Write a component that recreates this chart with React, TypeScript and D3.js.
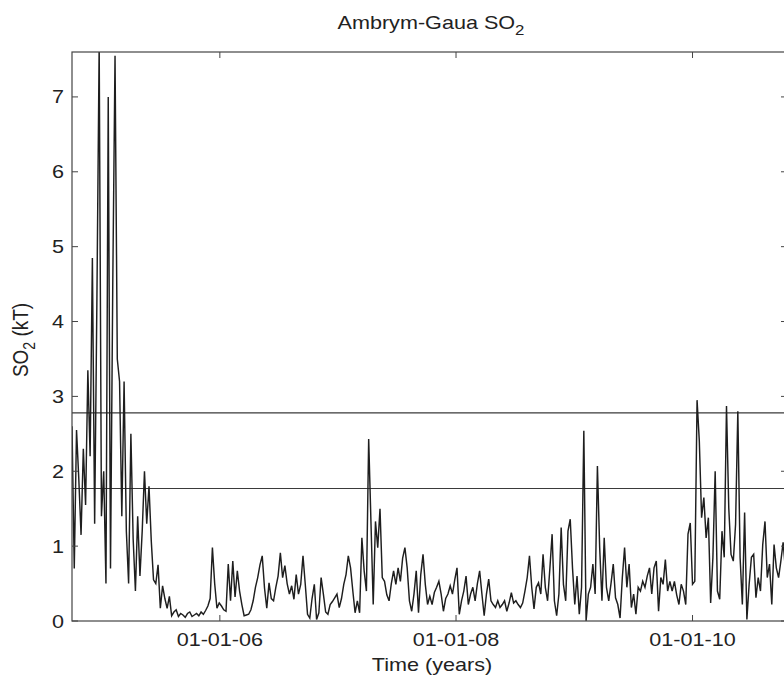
import { useEffect, useRef } from 'react';
import * as d3 from 'd3';

// weekly SO2 mass (kT), starting 2004-10-01
const startDate = new Date(2004, 9, 1);
const so2Values = [
  2.6, 0.7, 2.55, 1.9, 1.15, 2.3, 1.55, 3.35, 2.2, 4.85,
  1.3, 4.3, 7.7, 1.4, 2.0, 0.5, 7.0, 0.7, 4.5, 7.55,
  3.5, 3.2, 1.4, 3.2, 1.2, 0.5, 2.5, 1.1, 0.4, 1.4,
  0.6, 1.2, 2.0, 1.3, 1.8, 1.07, 0.55, 0.5, 0.75, 0.17,
  0.47, 0.3, 0.17, 0.33, 0.07, 0.12, 0.15, 0.06, 0.1, 0.08,
  0.05, 0.1, 0.12, 0.06, 0.08, 0.1, 0.07, 0.12, 0.09, 0.14,
  0.2, 0.3, 0.98, 0.5, 0.17, 0.24, 0.2, 0.15, 0.13, 0.76,
  0.27, 0.8, 0.32, 0.67, 0.4, 0.22, 0.07, 0.08, 0.09, 0.15,
  0.27, 0.45, 0.58, 0.75, 0.87, 0.44, 0.17, 0.51, 0.3, 0.27,
  0.45, 0.6, 0.91, 0.58, 0.74, 0.5, 0.36, 0.47, 0.29, 0.62,
  0.36, 0.49, 0.87, 0.49, 0.09, 0.04, 0.3, 0.49, 0.02, 0.11,
  0.58, 0.36, 0.12, 0.09, 0.22, 0.26, 0.31, 0.36, 0.18, 0.3,
  0.49, 0.62, 0.87, 0.71, 0.4, 0.11, 0.27, 0.11, 1.11, 0.67,
  0.4, 2.43, 1.33, 0.22, 1.33, 0.98, 1.5, 0.58, 0.53, 0.35,
  0.27, 0.5, 0.67, 0.49, 0.71, 0.53, 0.84, 0.98, 0.71, 0.27,
  0.13, 0.36, 0.67, 0.11, 0.62, 0.89, 0.49, 0.22, 0.33, 0.22,
  0.38, 0.45, 0.53, 0.36, 0.13, 0.3, 0.36, 0.47, 0.36, 0.55,
  0.71, 0.09, 0.27, 0.4, 0.6, 0.22, 0.36, 0.45, 0.27, 0.5,
  0.67, 0.36, 0.07, 0.36, 0.56, 0.27, 0.22, 0.18, 0.27, 0.18,
  0.22, 0.27, 0.13, 0.24, 0.38, 0.24, 0.27, 0.22, 0.18, 0.24,
  0.4, 0.58, 0.87, 0.45, 0.16, 0.45, 0.51, 0.36, 0.89, 0.45,
  0.27, 0.7, 1.16, 0.27, 0.07, 0.36, 1.25, 0.49, 0.27, 1.2,
  1.36, 0.71, 0.22, 0.6, 0.09, 0.45, 2.54, 0.0, 0.36, 0.45,
  0.76, 0.36, 2.07, 0.98, 0.27, 1.11, 0.45, 0.27, 0.5, 0.76,
  0.31, 0.22, 0.04, 0.58, 0.98, 0.45, 0.76, 0.18, 0.36, 0.09,
  0.45, 0.4, 0.53, 0.45, 0.6, 0.71, 0.36, 0.71, 0.8, 0.13,
  0.58, 0.49, 0.82, 0.4, 0.53, 0.4, 0.53, 0.35, 0.22, 0.49,
  0.4, 0.22, 1.16, 1.31, 0.49, 0.53, 2.95, 2.4, 1.38, 1.65,
  1.11, 1.38, 0.24, 0.85, 2.0, 0.4, 0.29, 1.2, 0.85, 2.87,
  1.51, 0.89, 0.8, 1.29, 2.8, 0.85, 0.22, 1.45, 0.02, 0.49,
  0.85, 0.89, 0.31, 0.58, 0.4, 1.02, 1.33, 0.58, 0.76, 0.22,
  1.02, 0.71, 0.58, 0.8, 1.05, 0.7,
];
const thresholdLevels = [2.78, 1.77];
const yTicks = [0, 1, 2, 3, 4, 5, 6, 7];
const xTickDates = [new Date(2006, 0, 1), new Date(2008, 0, 1), new Date(2010, 0, 1)];
const xTickLabels = ['01-01-06', '01-01-08', '01-01-10'];

const W = 784;
const H = 682;
const left = 72;
const right = 787;
const top = 52;
const bottom = 621;
const FONT = 'Liberation Sans, Arial, Helvetica, sans-serif';
const STRETCH = 1.2;

export default function App() {
  const svgRef = useRef<SVGSVGElement>(null);

  useEffect(() => {
    const svg = d3.select(svgRef.current);
    svg.selectAll('*').remove();

    const x = d3.scaleTime()
      .domain([startDate, new Date(2010, 9, 20)])
      .range([left, right]);
    const y = d3.scaleLinear().domain([0, 7.6]).range([bottom, top]);

    const data = so2Values.map((v, i) => ({ date: d3.timeDay.offset(startDate, i * 7), value: v }));

    svg.append('rect').attr('width', W).attr('height', H).attr('fill', '#fff');

    svg.append('clipPath').attr('id', 'plot-clip')
      .append('rect')
      .attr('x', left).attr('y', top)
      .attr('width', right - left).attr('height', bottom - top);

    // threshold lines
    svg.selectAll('.thr')
      .data(thresholdLevels)
      .enter()
      .append('line')
      .attr('x1', left).attr('x2', right)
      .attr('y1', d => y(d)).attr('y2', d => y(d))
      .attr('stroke', '#3a3a3a')
      .attr('stroke-width', 1.2);

    const line = d3.line<{ date: Date; value: number }>()
      .x(d => x(d.date))
      .y(d => y(d.value));

    svg.append('path')
      .datum(data)
      .attr('clip-path', 'url(#plot-clip)')
      .attr('d', line)
      .attr('fill', 'none')
      .attr('stroke', '#1e1e1e')
      .attr('stroke-width', 1.45)
      .attr('stroke-linejoin', 'miter');

    // frame
    svg.append('rect')
      .attr('x', left).attr('y', top)
      .attr('width', right - left).attr('height', bottom - top)
      .attr('fill', 'none')
      .attr('stroke', '#444')
      .attr('stroke-width', 1.2);

    // inward ticks
    const tick = 6;
    yTicks.forEach(t => {
      svg.append('line')
        .attr('x1', left).attr('x2', left + tick)
        .attr('y1', y(t)).attr('y2', y(t))
        .attr('stroke', '#444');
      svg.append('line')
        .attr('x1', right).attr('x2', right - tick)
        .attr('y1', y(t)).attr('y2', y(t))
        .attr('stroke', '#444');
      svg.append('text')
        .attr('transform', `translate(${left - 8},${y(t) + 6.5}) scale(${STRETCH},1)`)
        .attr('text-anchor', 'end')
        .style('font-family', FONT)
        .style('font-size', '18px')
        .attr('fill', '#222')
        .text(t);
    });

    xTickDates.forEach((d, i) => {
      const px = x(d);
      svg.append('line')
        .attr('x1', px).attr('x2', px)
        .attr('y1', bottom).attr('y2', bottom - tick)
        .attr('stroke', '#444');
      svg.append('line')
        .attr('x1', px).attr('x2', px)
        .attr('y1', top).attr('y2', top + tick)
        .attr('stroke', '#444');
      svg.append('text')
        .attr('transform', `translate(${px},${646}) scale(${STRETCH},1)`)
        .attr('text-anchor', 'middle')
        .style('font-family', FONT)
        .style('font-size', '18px')
        .attr('fill', '#222')
        .text(xTickLabels[i]);
    });

    // axis titles
    svg.append('text')
      .attr('transform', `translate(${432},${671}) scale(${STRETCH},1)`)
      .attr('text-anchor', 'middle')
      .style('font-family', FONT)
      .style('font-size', '18px')
      .attr('fill', '#222')
      .text('Time (years)');

    const yl = svg.append('text')
      .attr('transform', `translate(${28},${340}) rotate(-90) scale(1,${STRETCH})`)
      .attr('text-anchor', 'middle')
      .style('font-family', FONT)
      .style('font-size', '19px')
      .attr('fill', '#222');
    yl.append('tspan').text('SO');
    yl.append('tspan').attr('dy', 6).style('font-size', '14px').text('2');
    yl.append('tspan').attr('dy', -6).text(' (kT)');

    const title = svg.append('text')
      .attr('transform', `translate(${431},${29}) scale(${STRETCH},1)`)
      .attr('text-anchor', 'middle')
      .style('font-family', FONT)
      .style('font-size', '18px')
      .attr('fill', '#222');
    title.append('tspan').text('Ambrym-Gaua SO');
    title.append('tspan').attr('dy', 6).style('font-size', '14px').text('2');
  }, []);

  return (
    <svg
      ref={svgRef}
      width={W}
      height={H}
      style={{ position: 'absolute', left: 0, top: 0, display: 'block' }}
    />
  );
}
